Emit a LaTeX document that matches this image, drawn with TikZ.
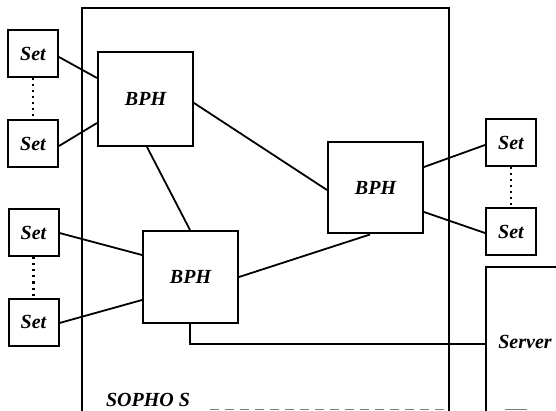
\documentclass[tikz,border=0pt]{standalone}
\usepackage{fontspec}
\setmainfont{Liberation Serif}
\begin{document}
\begin{tikzpicture}[x=1pt,y=-1pt,
  lbl/.style={font=\fontsize{20}{22}\selectfont\bfseries\itshape},
  setbox/.style={draw,line width=2pt,minimum width=50pt,minimum height=47pt,inner sep=0pt,lbl},
  bphbox/.style={draw,line width=2pt,minimum width=95pt,minimum height=92pt,inner sep=0pt,lbl},
  conn/.style={line width=1.8pt},
  dotv/.style={line width=2.2pt,dash pattern=on 2pt off 4pt},
  frame/.style={line width=2pt}]
\useasboundingbox (0,0) rectangle (556,411);
% SOPHO S frame
\coordinate (f1) at (82,411);
\coordinate (f2) at (82,8);
\coordinate (f3) at (449,8);
\coordinate (f4) at (449,411);
\draw[frame] (f1) -- (f2) -- (f3) -- (f4);
\coordinate (b1) at (210,409);
\coordinate (b2) at (445,409);
\coordinate (b3) at (505,409);
\coordinate (b4) at (527,409);
\draw[gray,line width=1pt,dash pattern=on 9pt off 6pt] (b1) -- (b2);
\draw[gray,line width=1pt] (b3) -- (b4);
\node[lbl,anchor=center,inner sep=0pt] (sopho) at (148,400) {SOPHO S};
% Server box
\coordinate (s1) at (486,411);
\coordinate (s2) at (486,267);
\coordinate (s3) at (556,267);
\draw[frame] (s1) -- (s2) -- (s3);
\node[lbl,inner sep=0pt] (server) at (525,342) {Server};
\coordinate (srv) at (486,344);
% Sets
\node[setbox] (set1) at (33,53.5) {Set};
\node[setbox] (set2) at (33,143.5) {Set};
\node[setbox] (set3) at (33.5,233) {Set};
\node[setbox] (set4) at (33.5,322) {Set};
\node[setbox] (set5) at (511,142.5) {Set};
\node[setbox] (set6) at (511,231.5) {Set};
% BPH
\node[bphbox,minimum height=94pt] (bph1) at (145.5,99) {BPH};
\node[bphbox,minimum height=91pt] (bph2) at (375.5,188) {BPH};
\node[bphbox] (bph3) at (190.5,277) {BPH};
% dotted
\draw[dotv] (set1.south) -- (set2.north);
\draw[dotv] (set3.south) -- (set4.north);
\draw[dotv] (set5.south) -- (set6.north);
% connectors
\draw[conn] ([yshift=-3.5pt]set1.east) -- ([yshift=21pt]bph1.west);
\draw[conn] ([yshift=-2.5pt]set2.east) -- ([yshift=-24pt]bph1.west);
\draw[conn] ([yshift=-4pt]bph1.east) -- ([yshift=-2pt]bph2.west);
\draw[conn] ([xshift=1.5pt]bph1.south) -- ([xshift=-0.5pt]bph3.north);
\draw[conn] (bph3.east) -- ([xshift=-5.5pt]bph2.south);
\draw[conn] (set3.east) -- ([yshift=22pt]bph3.west);
\draw[conn] ([yshift=-1pt]set4.east) -- ([yshift=-23pt]bph3.west);
\draw[conn] ([yshift=21pt]bph2.east) -- ([yshift=-2.5pt]set5.west);
\draw[conn] ([yshift=-24pt]bph2.east) -- ([yshift=-1.5pt]set6.west);
\draw[conn] ([xshift=-0.5pt]bph3.south) |- (srv);
\end{tikzpicture}
\end{document}
